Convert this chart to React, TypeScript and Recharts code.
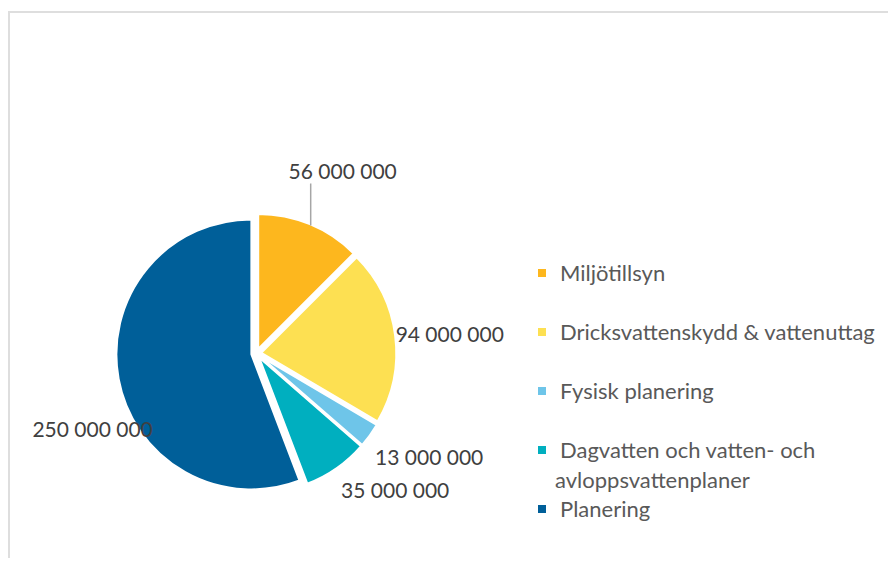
import React from "react";
import { PieChart, Pie, Cell, Legend, Sector } from "recharts";

const CATEGORIES = [
  "Miljötillsyn",
  "Dricksvattenskydd & vattenuttag",
  "Fysisk planering",
  "Dagvatten och vatten- och avloppsvattenplaner",
  "Planering",
];
const VALUES = [56000000, 94000000, 13000000, 35000000, 250000000];

const COLORS = ["#FDB71E", "#FDE052", "#6EC5E9", "#00AFBF", "#005F99"];

// Excel "best fit" put the labels a little off the mid angle
const LABEL_NUDGE = [
  [11, -1],
  [-2, 5],
  [13, -12],
  [26, -25],
  [30, 39],
];

const RAD = Math.PI / 180;
const EXPLODE = 5;
const FONT = "Lato, 'Open Sans', sans-serif";

const data = CATEGORIES.map((name, i) => ({ name, value: VALUES[i] }));

const fmt = (v: number) => String(v).replace(/\B(?=(\d{3})+(?!\d))/g, " ");

function explodeOffset(midAngle: number) {
  return [EXPLODE * Math.cos(-midAngle * RAD), EXPLODE * Math.sin(-midAngle * RAD)];
}

function ExplodedSector(props: any) {
  const { cx, cy, midAngle, innerRadius, outerRadius, startAngle, endAngle, fill } = props;
  const [dx, dy] = explodeOffset(midAngle);
  return (
    <Sector
      cx={cx + dx}
      cy={cy + dy}
      innerRadius={innerRadius}
      outerRadius={outerRadius}
      startAngle={startAngle}
      endAngle={endAngle}
      fill={fill}
      stroke="#fff"
      strokeWidth={2}
    />
  );
}

function renderLabel(props: any) {
  const { cx, cy, midAngle, outerRadius, index } = props;
  const r = outerRadius + 62;
  const x = cx + r * Math.cos(-midAngle * RAD) + LABEL_NUDGE[index][0];
  const y = cy + r * Math.sin(-midAngle * RAD) + LABEL_NUDGE[index][1];
  let line = null;
  if (index === 0) {
    const [dx, dy] = explodeOffset(midAngle);
    const lx = x - 32;
    const ly = cy + dy - Math.sqrt(outerRadius * outerRadius - (lx - cx - dx) * (lx - cx - dx)) + 1;
    line = <line x1={lx} y1={y + 13} x2={lx} y2={ly} stroke="#A6A6A6" strokeWidth={1.5} />;
  }
  return (
    <g key={`lbl-${index}`}>
      {line}
      <text
        x={x}
        y={y}
        textAnchor="middle"
        dominantBaseline="central"
        fill="#404040"
        style={{ fontFamily: FONT, fontSize: 21 }}
      >
        {fmt(VALUES[index])}
      </text>
    </g>
  );
}

// legend kept in data order (recharts would sort it by name)
function LegendContent() {
  return (
    <div style={{ fontFamily: FONT, fontSize: 22, color: "#595959", width: 355 }}>
      {CATEGORIES.map((name, i) => (
        <div
          key={name}
          style={{ minHeight: 59, lineHeight: "29.5px", paddingLeft: 17, textIndent: -17 }}
        >
          <span
            style={{
              display: "inline-block",
              width: 8,
              height: 8,
              background: COLORS[i],
              marginRight: 14,
              verticalAlign: "middle",
              position: "relative",
              top: -2,
            }}
          />
          {name}
        </div>
      ))}
    </div>
  );
}

export default function App() {
  return (
    <div style={{ position: "relative", width: 888, height: 550, overflow: "hidden" }}>
      <div
        style={{
          position: "absolute",
          left: 0,
          top: 3,
          width: 900,
          height: 560,
          borderTop: "2px solid #DEDEDE",
          borderLeft: "2px solid #DEDEDE",
        }}
      />
      <div style={{ position: "absolute", left: 0, top: 0 }}>
        <PieChart width={888} height={550} margin={{ top: 0, right: 0, bottom: 0, left: 0 }}>
          <Pie
            data={data}
            dataKey="value"
            nameKey="name"
            cx={248.3}
            cy={345.5}
            outerRadius={135}
            startAngle={90}
            endAngle={-270}
            shape={ExplodedSector}
            label={renderLabel}
            labelLine={false}
            isAnimationActive={false}
          >
            {data.map((d, i) => (
              <Cell key={d.name} fill={COLORS[i]} />
            ))}
          </Pie>
          <Legend
            layout="vertical"
            align="right"
            verticalAlign="top"
            content={<LegendContent />}
            wrapperStyle={{ left: 530, top: 250, width: 355 }}
          />
        </PieChart>
      </div>
    </div>
  );
}
